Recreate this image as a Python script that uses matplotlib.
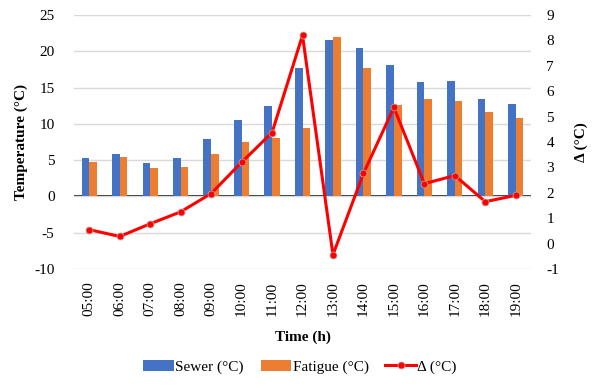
import matplotlib
matplotlib.use("Agg")
import matplotlib.pyplot as plt
import numpy as np

plt.rcParams['font.family'] = ['Liberation Serif', 'DejaVu Serif']
plt.rcParams['axes.unicode_minus'] = False

hours = ['05:00', '06:00', '07:00', '08:00', '09:00', '10:00', '11:00', '12:00',
         '13:00', '14:00', '15:00', '16:00', '17:00', '18:00', '19:00']
sewer = [5.25, 5.8, 4.55, 5.25, 7.9, 10.6, 12.4, 17.7, 21.5, 20.4, 18.1, 15.7, 15.9, 13.4, 12.7]
fatigue = [4.7, 5.5, 3.85, 4.0, 5.8, 7.45, 8.0, 9.4, 22.0, 17.7, 12.6, 13.4, 13.1, 11.6, 10.8]
delta = [0.55, 0.28, 0.78, 1.25, 1.97, 3.2, 4.37, 8.2, -0.44, 2.76, 5.36, 2.36, 2.68, 1.65, 1.9]

fig = plt.figure(figsize=(5.98, 3.89), dpi=100)
ax = fig.add_axes([74/598, 1 - 269/389, 457/598, 254/389])
x = np.arange(len(hours))
w = 0.25

ax.bar(x - w/2, sewer, w, color='#4472C4', label='Sewer (°C)', zorder=2)
ax.bar(x + w/2, fatigue, w, color='#ED7D31', label='Fatigue (°C)', zorder=2)
ax.set_ylim(-10, 25)
ax.set_yticks(range(-10, 26, 5))
ax.set_xlim(-0.5, len(hours) - 0.5)
ax.set_xticks(x)
ax.set_xticklabels(hours, rotation=90)
ax.grid(axis='y', color='#D9D9D9', linewidth=1, zorder=0)
ax.axhline(0, color='black', linewidth=1.2, zorder=1)
for s in ax.spines.values():
    s.set_visible(False)
ax.tick_params(length=0, labelsize=11)
ax.tick_params(axis='y', pad=14)
ax.tick_params(axis='x', pad=9)
ax.set_ylabel('Temperature (°C)', fontsize=11, fontweight='bold')
ax.yaxis.set_label_coords((28 - 74) / 457, 0.5)
ax.set_xlabel('Time (h)', fontsize=11, fontweight='bold')
ax.xaxis.set_label_coords(0.5, -(331 - 269) / 254)

ax2 = ax.twinx()
ax2.plot(x, delta, color='#FF0000', linewidth=2.2, marker='o', markersize=5,
         markerfacecolor='#FF0000', markeredgecolor='#C0A0A0', markeredgewidth=0.6,
         label='Δ (°C)', zorder=3)
ax2.set_ylim(-1, 9)
ax2.set_yticks(range(-1, 10))
for s in ax2.spines.values():
    s.set_visible(False)
ax2.tick_params(length=0, labelsize=11, pad=11)
ax2.set_ylabel('Δ (°C)', fontsize=11, fontweight='bold')
ax2.yaxis.set_label_coords((575 - 74) / 457, 0.5)

h1, l1 = ax.get_legend_handles_labels()
h2, l2 = ax2.get_legend_handles_labels()
fig.legend(h1 + h2, l1 + l2, loc='center', bbox_to_anchor=(300/598, 1 - 367/389),
           ncol=3, frameon=False, fontsize=11, handlelength=2.0,
           handletextpad=0.1, columnspacing=1.1)

fig.savefig('out.png', dpi=100)
